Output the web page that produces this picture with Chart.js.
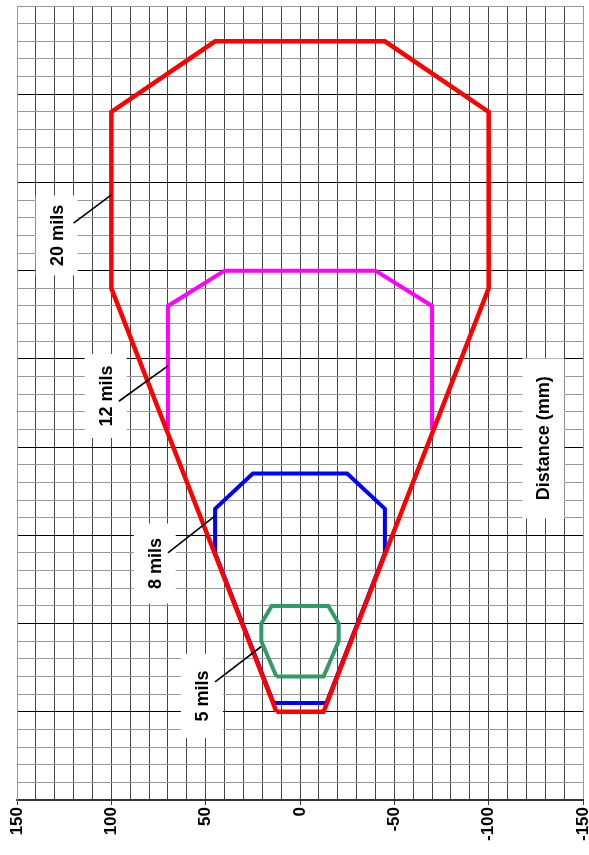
<!DOCTYPE html>
<html lang="en">
<head>
  <meta charset="UTF-8">
  <title>Scan width vs distance</title>
  <script src="https://cdn.jsdelivr.net/npm/chart.js"></script>
  <style>
    html, body { margin: 0; padding: 0; background: #fff; }
    canvas { display: block; }
  </style>
</head>
<body>
  <canvas id="grafico" width="589" height="855"></canvas>

  <script>
    // lateral position (mm) and distance (mm) of each outline
    const red20X = [12.5, 100, 100, 45, -45, -100, -100, -12.5, 12.5];
    const red20Y = [50, 290, 390, 430, 430, 390, 290, 50, 50];

    const mag12X = [70, 70, 40, -40, -70, -70];
    const mag12Y = [210, 280, 300, 300, 280, 210];

    const blue8X = [14, 45, 45, 25, -25, -45, -45, -14, 14];
    const blue8Y = [55, 140, 165, 185, 185, 165, 140, 55, 55];

    const green5X = [12.5, 20.5, 20.5, 15, -15, -20.5, -20.5, -12.5, 12.5];
    const green5Y = [70, 90, 100, 110, 110, 100, 90, 70, 70];

    const xMin = -150, xMax = 150;
    const yMin = 0, yMax = 450;

    // labels in the plot (text, centre, leader line), in data units
    const notes = [
      { text: '20 mils', x: 129, y: 320, h: 80, from: [120, 327], to: [100, 343] },
      { text: '12 mils', x: 103, y: 229, h: 84, from: [96, 226], to: [70, 246] },
      { text: '8 mils', x: 77, y: 134, h: 80, from: [70, 140], to: [45, 161] },
      { text: '5 mils', x: 52, y: 59, h: 84, from: [45, 67], to: [20.5, 87] },
      { text: 'Distance (mm)', x: -129, y: 205, h: 160 }
    ];

    const pts = (xs, ys) => xs.map((x, i) => ({ x: x, y: ys[i] }));

    const notesPlugin = {
      id: 'notes',
      afterDatasetsDraw(chart) {
        const ctx = chart.ctx;
        const sx = chart.scales.x, sy = chart.scales.y;
        ctx.save();
        ctx.font = 'bold 18px "Liberation Sans", Arial, sans-serif';
        notes.forEach(n => {
          const cx = sx.getPixelForValue(n.x);
          const cy = sy.getPixelForValue(n.y);
          ctx.fillStyle = '#fff';
          ctx.fillRect(cx - 21, cy - n.h / 2, 42, n.h);
          ctx.save();
          ctx.translate(cx, cy);
          ctx.rotate(-Math.PI / 2);
          ctx.fillStyle = '#000';
          ctx.textAlign = 'center';
          ctx.textBaseline = 'middle';
          ctx.fillText(n.text, 0, 1);
          ctx.restore();
          if (n.from) {
            ctx.beginPath();
            ctx.strokeStyle = '#000';
            ctx.lineWidth = 1.6;
            ctx.moveTo(sx.getPixelForValue(n.from[0]), sy.getPixelForValue(n.from[1]));
            ctx.lineTo(sx.getPixelForValue(n.to[0]), sy.getPixelForValue(n.to[1]));
            ctx.stroke();
          }
        });
        ctx.restore();
      }
    };

    const line = (data, color, w) => ({
      data: data,
      showLine: true,
      borderColor: color,
      borderWidth: w,
      pointRadius: 0,
      fill: false,
      tension: 0
    });

    new Chart(document.getElementById('grafico'), {
      type: 'scatter',
      data: {
        datasets: [
          line(pts(red20X, red20Y), '#ff0000', 4.5),
          line(pts(blue8X, blue8Y), '#0000ff', 4),
          line(pts(mag12X, mag12Y), '#ff00ff', 4),
          line(pts(green5X, green5Y), '#339966', 4)
        ]
      },
      options: {
        responsive: false,
        animation: false,
        devicePixelRatio: 1,
        layout: { padding: { left: 17, right: 6, top: 6, bottom: 0 } },
        plugins: { legend: { display: false }, tooltip: { enabled: false } },
        scales: {
          x: {
            type: 'linear',
            min: xMin,
            max: xMax,
            reverse: true,
            afterFit(scale) {
              scale.height = 55;
              scale.paddingLeft = 0;
              scale.paddingRight = 0;
            },
            ticks: {
              stepSize: 10,
              autoSkip: false,
              minRotation: 90,
              maxRotation: 90,
              padding: 2,
              color: '#000',
              font: { family: '"Liberation Sans", Arial, sans-serif', size: 17, weight: 'bold' },
              callback: v => (v % 50 === 0 ? String(v) : '')
            },
            grid: {
              color: ctx => (Math.abs(ctx.tick.value) === 150 ? '#999' : '#444'),
              tickColor: ctx => (ctx.tick.value % 50 === 0 ? '#333' : 'rgba(0,0,0,0)'),
              tickLength: 5,
              lineWidth: 1
            },
            border: { color: '#333', width: 2 }
          },
          y: {
            type: 'linear',
            min: yMin,
            max: yMax,
            afterFit(scale) { scale.width = 0; },
            ticks: { display: false, stepSize: 10 },
            grid: {
              drawTicks: false,
              color: ctx => {
                const v = ctx.tick.value;
                if (v === yMax) return '#999';
                return v % 50 === 0 ? '#000' : '#999';
              },
              lineWidth: 1
            },
            border: { color: '#999', width: 1 }
          }
        }
      },
      plugins: [notesPlugin]
    });
  </script>
</body>
</html>
